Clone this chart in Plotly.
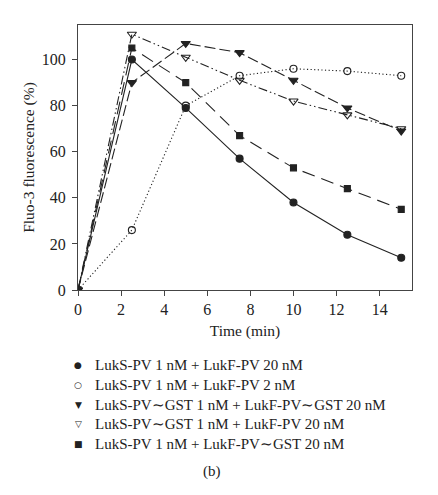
import plotly.graph_objects as go

time_min = [0, 2.5, 5, 7.5, 10, 12.5, 15]
s1_f20 = [0, 100, 79, 57, 38, 24, 14]
s1_f2 = [0, 26, 80, 93, 96, 95, 93]
sgst_fgst = [0, 90, 107, 103, 91, 79, 69]
sgst_f20 = [0, 111, 101, 91, 82, 76, 70]
s1_fgst = [0, 105, 90, 67, 53, 44, 35]

labels = [
    "LukS-PV 1 nM + LukF-PV 20 nM",
    "LukS-PV 1 nM + LukF-PV 2 nM",
    "LukS-PV∼GST 1 nM + LukF-PV∼GST 20 nM",
    "LukS-PV∼GST 1 nM + LukF-PV 20 nM",
    "LukS-PV 1 nM + LukF-PV∼GST 20 nM",
]
legend_glyphs = ["●", "○", "▼", "▽", "■"]
series = [s1_f20, s1_f2, sgst_fgst, sgst_f20, s1_fgst]
symbols = ["circle", "circle-open", "triangle-down", "triangle-down-open", "square"]
dashes = ["solid", "1.2px,2.4px", "11px,4px", "9px,3px,1.5px,3px,1.5px,3px", "13px,7px"]
sizes = [7, 7, 8, 8, 6]

fig = go.Figure()
for y, sym, d, sz, lab in zip(series, symbols, dashes, sizes, labels):
    fig.add_trace(go.Scatter(
        x=time_min, y=y, mode="lines+markers", name=lab, showlegend=False,
        line=dict(color="#222222", width=1.1, dash=d),
        marker=dict(symbol=sym, size=sz, color="#222222",
                    line=dict(color="#222222", width=1.1)),
    ))

font = "Liberation Serif"
OFF = 8  # page body margin offset
W, H = 438 - OFF, 495 - OFF
L, R, T, B = 78 - OFF, 26, 25 - OFF, 205
ph = H - T - B
pw = W - L - R
plot_bottom_page = 290
plot_left_page = 78
row_px = [365, 385, 404.5, 424, 444]

annotations = []
for i, (lab, g) in enumerate(zip(labels, legend_glyphs)):
    yp = (plot_bottom_page - row_px[i]) / ph
    annotations.append(dict(text=g, x=0, y=yp, xref="paper", yref="paper",
                            xanchor="center", yanchor="middle", showarrow=False,
                            font=dict(family="DejaVu Sans", size=9, color="#222222")))
    annotations.append(dict(text=lab, x=(93 - plot_left_page) / pw, y=yp,
                            xref="paper", yref="paper",
                            xanchor="left", yanchor="middle", showarrow=False,
                            font=dict(family=font, size=15, color="#222222")))
annotations.append(dict(text="(b)", x=(212 - plot_left_page) / pw,
                        y=(plot_bottom_page - 472) / ph,
                        xref="paper", yref="paper", xanchor="center", yanchor="middle",
                        showarrow=False, font=dict(family=font, size=15, color="#222222")))

fig.update_layout(
    width=W, height=H,
    margin=dict(l=L, r=R, t=T, b=B, autoexpand=False),
    paper_bgcolor="white", plot_bgcolor="white",
    font=dict(family=font, size=16, color="#222222"),
    showlegend=False,
    xaxis=dict(range=[0, 15.5], tickvals=[0, 2, 4, 6, 8, 10, 12, 14],
               showgrid=False, zeroline=False, showline=True, mirror=True,
               linecolor="#444444", linewidth=1, ticks="outside", ticklen=5,
               tickcolor="#444444", ticklabelstandoff=0,
               title=dict(text="Time (min)", font=dict(size=15.5), standoff=7)),
    yaxis=dict(range=[0, 115], tickvals=[0, 20, 40, 60, 80, 100],
               showgrid=False, zeroline=False, showline=True, mirror=True,
               linecolor="#444444", linewidth=1, ticks="outside", ticklen=5,
               tickcolor="#444444", ticklabelstandoff=3,
               title=dict(text="Fluo-3 fluorescence (%)", font=dict(size=15.5), standoff=3)),
    annotations=annotations,
)
fig.write_html("out.html")
